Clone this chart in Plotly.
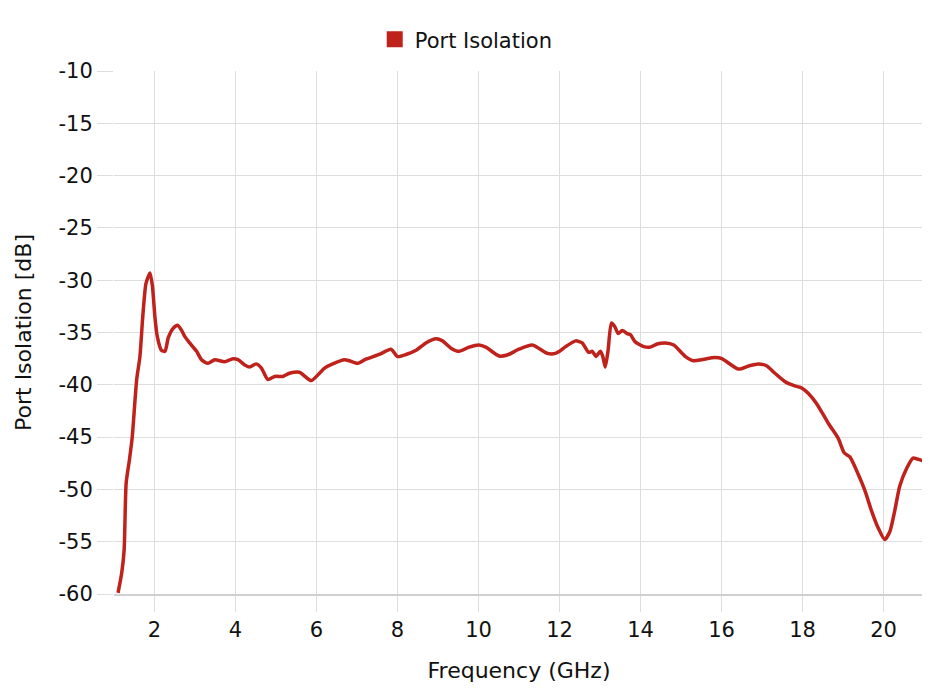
import plotly.graph_objects as go

freq_ghz = [1.10, 1.19, 1.25, 1.30, 1.38, 1.45, 1.56, 1.64, 1.71, 1.79, 1.89, 1.95, 2.01, 2.07, 2.17, 2.26,
            2.34, 2.46, 2.57, 2.67, 2.75, 2.87, 3.04, 3.16, 3.32, 3.49, 3.73, 3.94, 4.06, 4.23, 4.35, 4.51,
            4.64, 4.80, 4.97, 5.17, 5.33, 5.58, 5.87, 6.20, 6.40, 6.69, 6.81, 7.02, 7.22, 7.55, 7.84, 8.00,
            8.21, 8.46, 8.70, 8.95, 9.11, 9.32, 9.52, 9.77, 10.01, 10.18, 10.51, 10.71, 11.00, 11.33, 11.70,
            11.90, 12.00, 12.15, 12.40, 12.56, 12.72, 12.81, 12.90, 13.01, 13.07, 13.13, 13.20, 13.28, 13.36,
            13.45, 13.55, 13.67, 13.75, 13.87, 14.08, 14.24, 14.41, 14.61, 14.82, 15.11, 15.31, 15.51, 15.84,
            16.01, 16.42, 16.67, 16.91, 17.12, 17.32, 17.57, 17.81, 17.98, 18.14, 18.35, 18.64, 18.88, 19.03,
            19.17, 19.37, 19.54, 19.70, 19.87, 20.03, 20.16, 20.28, 20.40, 20.57, 20.73, 20.92, 21.00]
isolation_db = [-59.9, -58.0, -55.8, -49.4, -47.2, -45.0, -39.5, -37.3, -33.5, -30.3, -29.3, -30.6, -33.5,
                -35.4, -36.7, -36.8, -35.5, -34.6, -34.3, -34.8, -35.4, -36.0, -36.8, -37.6, -37.95, -37.6,
                -37.8, -37.5, -37.6, -38.1, -38.3, -38.0, -38.4, -39.5, -39.2, -39.2, -38.9, -38.8, -39.6,
                -38.4, -38.0, -37.6, -37.7, -37.95, -37.55, -37.1, -36.6, -37.3, -37.1, -36.7, -36.0, -35.6,
                -35.8, -36.5, -36.8, -36.4, -36.2, -36.4, -37.25, -37.15, -36.6, -36.2, -37.0, -37.0, -36.8,
                -36.35, -35.8, -36.0, -36.9, -36.8, -37.3, -36.8, -37.3, -38.3, -36.7, -34.1, -34.4, -35.1,
                -34.8, -35.1, -35.2, -35.9, -36.35, -36.4, -36.1, -36.0, -36.2, -37.3, -37.7, -37.6, -37.4,
                -37.5, -38.5, -38.2, -38.0, -38.2, -38.9, -39.7, -40.1, -40.3, -40.8, -41.8, -43.7, -45.1,
                -46.5, -46.9, -48.5, -50.1, -52.0, -53.7, -54.8, -54.0, -52.0, -49.7, -48.0, -47.0, -47.2, -47.3]

x_ticks = [2, 4, 6, 8, 10, 12, 14, 16, 18, 20]
y_ticks = [-10, -15, -20, -25, -30, -35, -40, -45, -50, -55, -60]
y_tick_text = ["-10", "-15", "-20", "-25", "-30", "-35", "-40", "-45", "-50", "-55", "-60"]

RED = "#bf211b"
FONT = "DejaVu Sans, sans-serif"
GRID = "#dddddd"

fig = go.Figure()
fig.add_trace(go.Scatter(
    x=freq_ghz, y=isolation_db, mode="lines",
    line=dict(color=RED, width=3.5, shape="spline", smoothing=0.6),
    name="Port Isolation", showlegend=False, hoverinfo="x+y"))
fig.add_trace(go.Scatter(
    x=[None], y=[None], mode="markers", name="Port Isolation",
    marker=dict(color=RED, symbol="square", size=20), showlegend=True))

# page body has an 8px margin, so the figure is 8px smaller and margins shifted
fig.update_layout(
    width=922, height=688,
    margin=dict(l=106, r=6, t=63, b=102, autoexpand=False),
    paper_bgcolor="white", plot_bgcolor="white",
    font=dict(family=FONT, size=21, color="#111"),
    legend=dict(orientation="h", xref="container", x=0.497, xanchor="center",
                yref="container", y=0.954, yanchor="middle",
                itemsizing="trace", font=dict(size=21, color="#111"), bgcolor="rgba(0,0,0,0)"),
    showlegend=True,
)
fig.update_xaxes(range=[1, 21], tickvals=x_ticks, showgrid=True, gridcolor=GRID, gridwidth=1.3,
                 zeroline=False, ticks="outside", ticklen=16, tickcolor=GRID, tickwidth=1.3,
                 showline=True, linecolor="#d0d0d0", linewidth=1.5, automargin=False,
                 title=dict(text="Frequency (GHz)", font=dict(size=22), standoff=22),
                 tickfont=dict(size=21, color="#111"))
fig.update_yaxes(range=[-60, -10], tickvals=y_ticks, ticktext=y_tick_text, showgrid=True,
                 gridcolor=GRID, gridwidth=1.3,
                 zeroline=False, ticks="outside", ticklen=16, tickcolor=GRID, tickwidth=1.3,
                 showline=False, automargin=False,
                 title=dict(text="Port Isolation [dB]", font=dict(size=22), standoff=20),
                 tickfont=dict(size=21, color="#111"))

fig.write_html("out.html")
